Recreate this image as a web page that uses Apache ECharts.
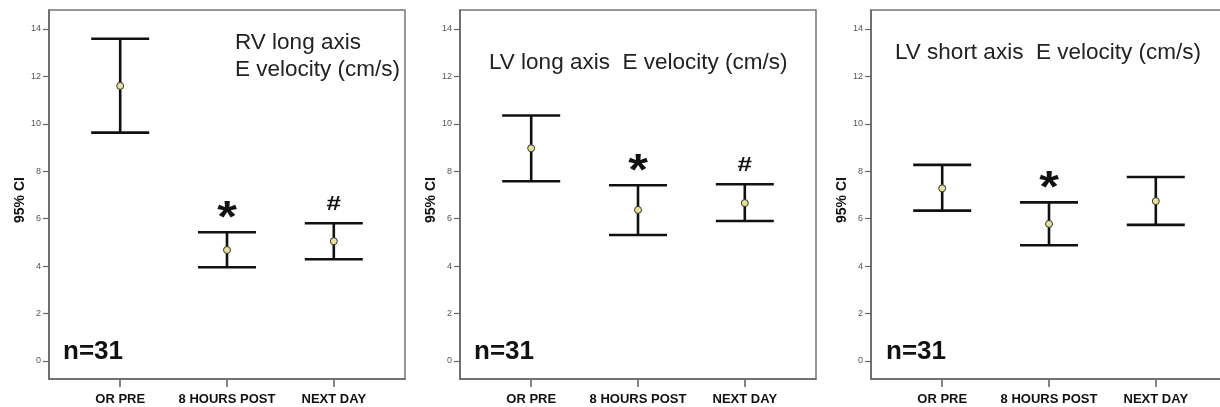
<!DOCTYPE html>
<html>
<head>
<meta charset="utf-8">
<script src="https://cdn.jsdelivr.net/npm/echarts@6/dist/echarts.min.js"></script>
<style>
  html, body { margin: 0; padding: 0; background: #fff; }
  #chart { width: 1220px; height: 407px; }
</style>
</head>
<body>
<div id="chart"></div>
<script>
// Time points shared by all three panels
const categories = ['OR PRE', '8 HOURS POST', 'NEXT DAY'];
const yTicks = [0, 2, 4, 6, 8, 10, 12, 14];

// RV long axis E velocity (cm/s): mean and 95% CI
const rvMean  = [11.60, 4.68, 5.05];
const rvLower = [9.63, 3.95, 4.29];
const rvUpper = [13.59, 5.43, 5.81];
const rvMarks = ['', '*', '#'];

// LV long axis E velocity (cm/s)
const lvLongMean  = [8.97, 6.37, 6.66];
const lvLongLower = [7.58, 5.31, 5.90];
const lvLongUpper = [10.35, 7.41, 7.45];
const lvLongMarks = ['', '*', '#'];

// LV short axis E velocity (cm/s)
const lvShortMean  = [7.28, 5.78, 6.74];
const lvShortLower = [6.34, 4.88, 5.74];
const lvShortUpper = [8.27, 6.69, 7.76];
const lvShortMarks = ['', '*', ''];

const panelTitles = ['RV long axis\nE velocity (cm/s)', 'LV long axis  E velocity (cm/s)', 'LV short axis  E velocity (cm/s)'];
const sampleLabel = 'n=31';

const panels = [
  { mean: rvMean, lower: rvLower, upper: rvUpper, marks: rvMarks },
  { mean: lvLongMean, lower: lvLongLower, upper: lvLongUpper, marks: lvLongMarks },
  { mean: lvShortMean, lower: lvShortLower, upper: lvShortUpper, marks: lvShortMarks }
];

const FONT = '"Liberation Sans", Arial, sans-serif';
const gridLeft = [49, 460, 871];
const titleTop = [29, 49, 39];
const titleLeft = [235, 489, 895];
const nLeft = [63, 474, 886];

const chart = echarts.init(document.getElementById('chart'), null, { renderer: 'canvas' });

const grids = [], xAxes = [], yAxes = [], series = [], titles = [];

panels.forEach((p, i) => {
  grids.push({
    left: gridLeft[i], top: 10, width: 356, height: 369,
    containLabel: false, outerBoundsMode: 'none',
    show: true, borderColor: '#777', borderWidth: 1.5, backgroundColor: '#fff'
  });
  xAxes.push({
    type: 'value', gridIndex: i, min: 1 / 3, max: 11 / 3,
    splitLine: { show: false },
    axisLine: { show: true, onZero: false, lineStyle: { color: '#666', width: 1.6 } },
    axisTick: { show: true, customValues: [1, 2, 3], length: 8, lineStyle: { color: '#666', width: 1.6 } },
    axisLabel: {
      customValues: [1, 2, 3],
      formatter: v => categories[Math.round(v) - 1],
      fontFamily: FONT, fontWeight: 'bold', fontSize: 13, color: '#111', margin: 14
    }
  });
  yAxes.push({
    type: 'value', gridIndex: i, min: -0.76, max: 14.8,
    splitLine: { show: false },
    axisLine: { show: true, onZero: false, lineStyle: { color: '#666', width: 1.6 } },
    axisTick: { show: true, customValues: yTicks, length: 6, lineStyle: { color: '#666', width: 1.2 } },
    axisLabel: { customValues: yTicks, fontFamily: FONT, fontSize: 9, color: '#555', margin: 8 },
    name: '95% CI', nameLocation: 'middle', nameGap: 22,
    nameTextStyle: { fontFamily: FONT, fontWeight: 'bold', fontSize: 14, color: '#111', padding: [0, 11, 0, 0] }
  });

  // Error bars (95% CI) with significance marks above the upper cap
  series.push({
    type: 'custom', xAxisIndex: i, yAxisIndex: i,
    data: categories.map((c, k) => [k + 1, p.lower[k], p.upper[k]]),
    renderItem: (params, api) => {
      const x = api.value(0);
      const lo = api.coord([x, api.value(1)]);
      const hi = api.coord([x, api.value(2)]);
      const hw = 29;
      const st = { stroke: '#111', lineWidth: 2.6 };
      const children = [
        { type: 'line', shape: { x1: lo[0], y1: lo[1], x2: hi[0], y2: hi[1] }, style: st },
        { type: 'line', shape: { x1: hi[0] - hw, y1: hi[1], x2: hi[0] + hw, y2: hi[1] }, style: st },
        { type: 'line', shape: { x1: lo[0] - hw, y1: lo[1], x2: lo[0] + hw, y2: lo[1] }, style: st }
      ];
      const mark = p.marks[params.dataIndex];
      if (mark === '*') {
        children.push({ type: 'text', x: hi[0], y: hi[1] - 12, scaleX: 1.15, style: {
          text: '*', fontFamily: FONT, fontWeight: 'bold', fontSize: 44, fill: '#111',
          align: 'center', verticalAlign: 'middle'
        }});
      } else if (mark === '#') {
        children.push({ type: 'text', x: hi[0], y: hi[1] - 19, scaleX: 1.3, style: {
          text: '#', fontFamily: FONT, fontWeight: 'bold', fontSize: 20, fill: '#111',
          align: 'center', verticalAlign: 'middle'
        }});
      }
      return { type: 'group', children };
    },
    z: 2
  });

  // Mean points
  series.push({
    type: 'scatter', xAxisIndex: i, yAxisIndex: i,
    data: p.mean.map((m, k) => [k + 1, m]),
    symbol: 'circle', symbolSize: 7,
    itemStyle: { color: '#e4e19c', borderColor: '#333', borderWidth: 1, opacity: 1 },
    z: 3
  });

  titles.push({
    text: panelTitles[i], left: titleLeft[i], top: titleTop[i], padding: 0,
    textStyle: { fontFamily: FONT, fontWeight: 'normal', fontSize: 22.5, lineHeight: 27, color: '#222' }
  });
  titles.push({
    text: sampleLabel, left: nLeft[i], top: 339, padding: 0,
    textStyle: { fontFamily: FONT, fontWeight: 'bold', fontSize: 26, lineHeight: 26, color: '#111' }
  });
});

chart.setOption({
  animation: false,
  backgroundColor: '#fff',
  title: titles,
  grid: grids,
  xAxis: xAxes,
  yAxis: yAxes,
  series: series
});
</script>
</body>
</html>
